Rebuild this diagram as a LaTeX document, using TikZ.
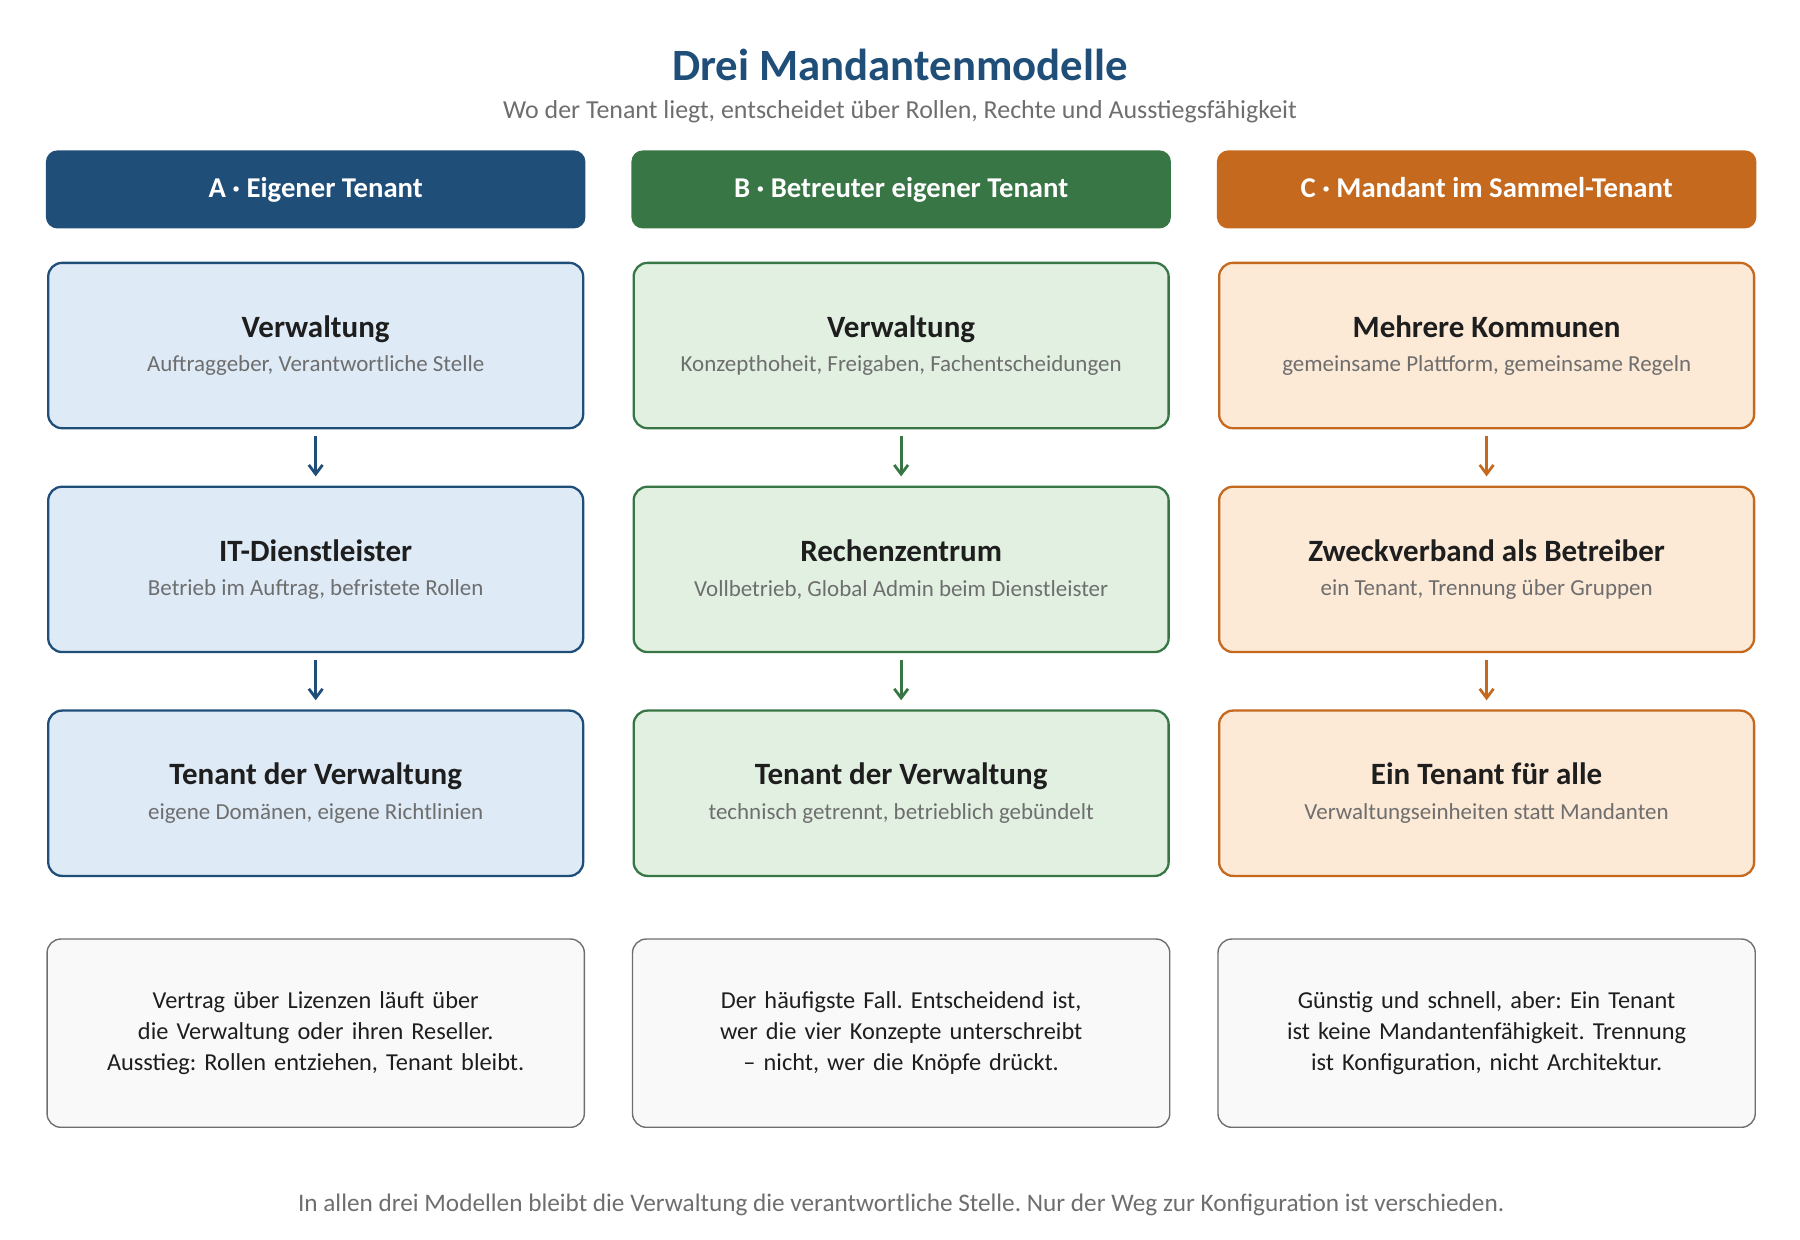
\documentclass[tikz,border=0pt]{standalone}
\usepackage{fontspec}
\setmainfont{Carlito}
\usepackage{tikz}
\usetikzlibrary{positioning,arrows.meta}
\definecolor{blueD}{RGB}{31,78,121}
\definecolor{blueL}{RGB}{222,234,246}
\definecolor{greenD}{RGB}{56,118,69}
\definecolor{greenL}{RGB}{226,240,226}
\definecolor{orangeD}{RGB}{196,105,30}
\definecolor{orangeL}{RGB}{252,233,214}
\definecolor{noteBg}{RGB}{249,249,249}
\definecolor{noteLn}{RGB}{110,110,110}
\definecolor{greyT}{RGB}{110,110,110}
\definecolor{darkT}{RGB}{30,30,30}
\frenchspacing
\tikzset{
  head/.style={rounded corners=5pt, fill=#1, draw=none, minimum width=235pt, minimum height=34pt, text height=9pt, text depth=2pt, text=white, font=\fontsize{12.5}{15}\selectfont\bfseries},
  stage/.style={rounded corners=6pt, line width=1pt, minimum width=233pt, minimum height=72pt, align=center},
  note/.style={rounded corners=6pt, draw=noteLn, line width=0.6pt, fill=noteBg, minimum width=234pt, minimum height=82pt, align=center, text width=205pt, font=\fontsize{10.6}{13.5}\selectfont, execute at begin node={\hyphenpenalty=10000}, text=darkT},
  flow/.style={-{Straight Barb[length=4pt,width=6pt]}, line width=1.2pt},
}
\newcommand{\stg}[2]{{\fontsize{13.5}{16}\selectfont\bfseries\color{darkT}#1}\\[3pt]{\fontsize{10}{12}\selectfont\color{greyT}#2}}
\begin{document}
\begin{tikzpicture}[x=0.5pt,y=0.5pt,yscale=-1]
\useasboundingbox (0,0) rectangle (1568,1080);
% title
\node (title) at (784,57) [font=\fontsize{19.5}{22}\selectfont\bfseries, text=blueD] {Drei Mandantenmodelle};
\node (sub) at (784,97) [font=\fontsize{11.3}{13}\selectfont, text=greyT] {Wo der Tenant liegt, entscheidet über Rollen, Rechte und Ausstiegsfähigkeit};
% column A
\node (hA) at (275,165) [head=blueD] {A · Eigener Tenant};
\node (a1) at (275,301) [stage, draw=blueD, fill=blueL] {\stg{Verwaltung}{Auftraggeber, Verantwortliche Stelle}};
\node (a2) at (275,496) [stage, draw=blueD, fill=blueL] {\stg{IT-Dienstleister}{Betrieb im Auftrag, befristete Rollen}};
\node (a3) at (275,691) [stage, draw=blueD, fill=blueL] {\stg{Tenant der Verwaltung}{eigene Domänen, eigene Richtlinien}};
\node (nA) at (275,900) [note] {Vertrag über Lizenzen läuft über die Verwaltung oder ihren Reseller. Ausstieg: Rollen entziehen, Tenant bleibt.};
% column B
\node (hB) at (785,165) [head=greenD] {B · Betreuter eigener Tenant};
\node (b1) at (785,301) [stage, draw=greenD, fill=greenL] {\stg{Verwaltung}{Konzepthoheit, Freigaben, Fachentscheidungen}};
\node (b2) at (785,496) [stage, draw=greenD, fill=greenL] {\stg{Rechenzentrum}{Vollbetrieb, Global Admin beim Dienstleister}};
\node (b3) at (785,691) [stage, draw=greenD, fill=greenL] {\stg{Tenant der Verwaltung}{technisch getrennt, betrieblich gebündelt}};
\node (nB) at (785,900) [note] {Der häufigste Fall. Entscheidend ist, wer die vier Konzepte unterschreibt – nicht, wer die Knöpfe drückt.};
% column C
\node (hC) at (1295,165) [head=orangeD] {C · Mandant im Sammel-Tenant};
\node (c1) at (1295,301) [stage, draw=orangeD, fill=orangeL] {\stg{Mehrere Kommunen}{gemeinsame Plattform, gemeinsame Regeln}};
\node (c2) at (1295,496) [stage, draw=orangeD, fill=orangeL] {\stg{Zweckverband als Betreiber}{ein Tenant, Trennung über Gruppen}};
\node (c3) at (1295,691) [stage, draw=orangeD, fill=orangeL] {\stg{Ein Tenant für alle}{Verwaltungseinheiten statt Mandanten}};
\node (nC) at (1295,900) [note] {Günstig und schnell, aber: Ein Tenant ist keine Mandantenfähigkeit. Trennung ist Konfiguration, nicht Architektur.};
% arrows
\foreach \x/\c in {a/blueD,b/greenD,c/orangeD}{
  \draw [flow, draw=\c] ([yshift=3pt]\x1.south) -- ([yshift=-4pt]\x2.north);
  \draw [flow, draw=\c] ([yshift=3pt]\x2.south) -- ([yshift=-4pt]\x3.north);
}
% footer
\node (foot) at (785,1050) [font=\fontsize{11}{13}\selectfont, text=greyT] {In allen drei Modellen bleibt die Verwaltung die verantwortliche Stelle. Nur der Weg zur Konfiguration ist verschieden.};
\end{tikzpicture}
\end{document}
